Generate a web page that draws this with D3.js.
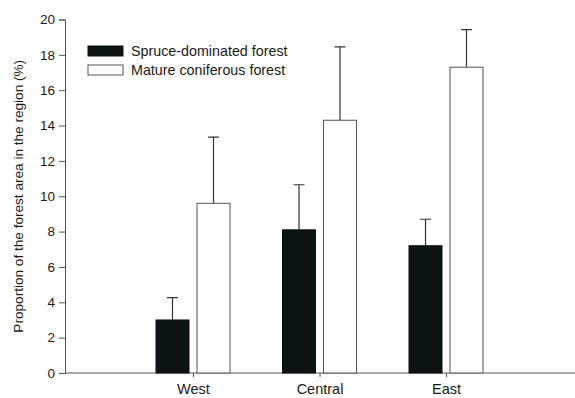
<!DOCTYPE html>
<html>
<head>
<meta charset="utf-8">
<script src="https://cdn.jsdelivr.net/npm/d3@7"></script>
<style>
  body { margin: 0; background: #fff; }
  svg text { font-family: "Liberation Sans", Arial, Helvetica, sans-serif; fill: #1a1a1a; }
</style>
</head>
<body>
<script>
// data
const regions = ['West', 'Central', 'East']
const seriesNames = ['Spruce-dominated forest', 'Mature coniferous forest']
const spruce = [3.0, 8.1, 7.2]
const spruceErr = [4.27, 10.65, 8.7]
const mature = [9.6, 14.3, 17.3]
const matureErr = [13.35, 18.45, 19.43]
const yTicks = [0, 2, 4, 6, 8, 10, 12, 14, 16, 18, 20]

const fullWidth = 575
const fullHeight = 398
const axisX = 65
const axisY = 373
const fills = ['#0d1214', '#ffffff']
const lineColor = '#555'

const svg = d3.select('body')
  .append('svg')
  .attr('width', fullWidth)
  .attr('height', fullHeight)

const y = d3.scaleLinear()
  .domain([0, 20])
  .range([axisY, 19.5])

const x = d3.scalePoint()
  .domain(regions)
  .range([193, 446])

const barWidth = 33
const gap = 8

// y axis
const yAxis = svg.append('g')
  .attr('transform', `translate(${axisX},0)`)
  .call(d3.axisLeft(y).tickValues(yTicks).tickSize(6).tickPadding(4))
yAxis.select('.domain').attr('stroke', lineColor)
yAxis.selectAll('.tick line').attr('stroke', lineColor)
yAxis.selectAll('.tick text')
  .attr('font-size', 13.5)
  .attr('fill', '#1a1a1a')

// x axis
const xAxis = svg.append('g')
  .attr('transform', `translate(0,${axisY})`)
  .call(d3.axisBottom(x).tickSize(4).tickPadding(7))
xAxis.select('.domain')
  .attr('d', `M${axisX},0H${fullWidth}`)
  .attr('stroke', lineColor)
xAxis.selectAll('.tick line').attr('stroke', lineColor)
xAxis.selectAll('.tick text')
  .attr('font-size', 14.5)
  .attr('fill', '#1a1a1a')

svg.append('text')
  .attr('transform', `translate(23,${(y(0) + y(20)) / 2}) rotate(-90)`)
  .attr('text-anchor', 'middle')
  .attr('font-size', 13.6)
  .text('Proportion of the forest area in the region (%)')

const series = [
  { values: spruce, err: spruceErr, offset: -(barWidth + gap) / 2 },
  { values: mature, err: matureErr, offset: (barWidth + gap) / 2 }
]

series.forEach((s, si) => {
  const g = svg.append('g')
  const rows = regions.map((r, i) => ({ region: r, v: s.values[i], e: s.err[i] }))

  // error bars (upper only)
  g.selectAll('.err')
    .data(rows)
    .enter().append('path')
    .attr('fill', 'none')
    .attr('stroke', '#333')
    .attr('stroke-width', 1.2)
    .attr('d', d => {
      const cx = x(d.region) + s.offset
      return `M${cx},${y(d.v)}V${y(d.e)}M${cx - 5.5},${y(d.e)}H${cx + 5.5}`
    })

  g.selectAll('.bar')
    .data(rows)
    .enter().append('rect')
    .attr('x', d => x(d.region) + s.offset - barWidth / 2)
    .attr('y', d => y(d.v))
    .attr('width', barWidth)
    .attr('height', d => y(0) - y(d.v))
    .attr('fill', fills[si])
    .attr('stroke', si === 0 ? fills[0] : lineColor)
    .attr('stroke-width', 1)
})

// legend
const legend = svg.append('g')
  .attr('transform', 'translate(88,46)')
seriesNames.forEach((name, i) => {
  legend.append('rect')
    .attr('x', 0)
    .attr('y', i * 19)
    .attr('width', 35)
    .attr('height', 10)
    .attr('fill', fills[i])
    .attr('stroke', i === 0 ? fills[0] : lineColor)
  legend.append('text')
    .attr('x', 43)
    .attr('y', i * 19 + 10)
    .attr('font-size', 14.3)
    .text(name)
})
</script>
</body>
</html>
